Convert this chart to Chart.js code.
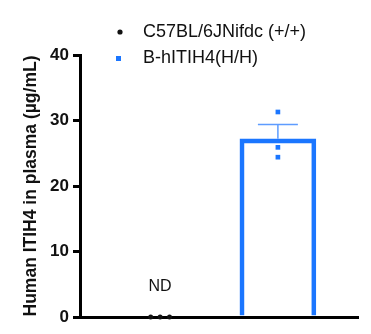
<!DOCTYPE html>
<html>
<head>
<meta charset="utf-8">
<script src="https://cdn.jsdelivr.net/npm/chart.js@4.4.1/dist/chart.umd.min.js"></script>
<style>
  html, body { margin: 0; padding: 0; background: #fff; }
  #wrap { width: 371px; height: 334px; }
</style>
</head>
<body>
<div id="wrap"><canvas id="c" width="371" height="334"></canvas></div>
<script>
// Groups along the x axis (linear positions 0 and 1)
const groups = ['C57BL/6JNifdc (+/+)', 'B-hITIH4(H/H)'];
// Individual animals, µg/mL (wild type not detected, plotted at 0)
const wtValues = [0, 0, 0];
const wtJitter = [-0.08, 0, 0.08];
const humanizedValues = [31.3, 25.9, 24.4];
// Group summary: mean and SEM
const humanizedMean = 27.2;
const humanizedSem = 2.2;
const ndLabel = 'ND';
const yTicks = [0, 10, 20, 30, 40];

const BLUE = '#1b76ff';
const ERR_BLUE = '#5e9cff';

const errorBarPlugin = {
  id: 'errorBar',
  afterDatasetsDraw(chart) {
    const { ctx, scales: { x, y } } = chart;
    const cx = x.getPixelForValue(1);
    const yTop = y.getPixelForValue(humanizedMean + humanizedSem);
    const yMean = y.getPixelForValue(humanizedMean);
    ctx.save();
    ctx.strokeStyle = ERR_BLUE;
    ctx.lineWidth = 1.5;
    ctx.beginPath();
    ctx.moveTo(cx, yMean);
    ctx.lineTo(cx, yTop);
    ctx.moveTo(cx - 20, yTop);
    ctx.lineTo(cx + 20, yTop);
    ctx.stroke();
    // Not-detected label above the wild-type group
    ctx.fillStyle = '#111';
    ctx.font = '16px "Liberation Sans", Arial, sans-serif';
    ctx.textAlign = 'center';
    ctx.textBaseline = 'middle';
    ctx.fillText(ndLabel, x.getPixelForValue(0), y.getPixelForValue(0) - 30);
    ctx.restore();
  }
};

const legendPlugin = {
  id: 'stackLegend',
  afterDraw(chart) {
    const { ctx } = chart;
    ctx.save();
    ctx.font = '18px "Liberation Sans", Arial, sans-serif';
    ctx.textBaseline = 'middle';
    ctx.textAlign = 'left';
    ctx.fillStyle = '#111';
    // row 1: black dot
    ctx.beginPath();
    ctx.arc(120, 32, 2.6, 0, Math.PI * 2);
    ctx.fill();
    ctx.fillText(groups[0], 143, 32);
    // row 2: blue square
    ctx.fillStyle = BLUE;
    ctx.fillRect(116, 56, 5, 5);
    ctx.fillStyle = '#111';
    ctx.fillText(groups[1], 143, 58);
    ctx.restore();
  }
};

new Chart(document.getElementById('c'), {
  type: 'bar',
  data: {
    datasets: [
      {
        type: 'bar',
        label: groups[1] + ' mean',
        data: [{ x: 1, y: humanizedMean }],
        backgroundColor: 'rgba(0,0,0,0)',
        borderColor: BLUE,
        borderWidth: 4,
        borderSkipped: 'bottom',
        barThickness: 76,
        grouped: false,
        order: 2
      },
      {
        type: 'scatter',
        label: groups[0],
        data: wtValues.map((v, i) => ({ x: wtJitter[i], y: v })),
        backgroundColor: '#111',
        borderColor: '#111',
        pointStyle: 'circle',
        pointRadius: 2.5,
        borderWidth: 0,
        clip: false,
        order: 0
      },
      {
        type: 'scatter',
        label: groups[1],
        data: humanizedValues.map(v => ({ x: 1, y: v })),
        backgroundColor: BLUE,
        borderColor: BLUE,
        pointStyle: 'rect',
        pointRadius: 3.3,
        borderWidth: 0,
        order: 0
      }
    ]
  },
  options: {
    responsive: false,
    animation: false,
    layout: { padding: { top: 55, right: 13, left: 0, bottom: 0 } },
    plugins: { legend: { display: false }, tooltip: { enabled: false } },
    scales: {
      x: {
        type: 'linear',
        offset: false,
        min: -0.68,
        max: 1.68,
        ticks: { display: false },
        grid: { display: false },
        border: { display: true, color: '#000', width: 3 },
        afterFit(s) { s.height = 17; }
      },
      y: {
        min: 0,
        max: 40,
        afterBuildTicks(s) { s.ticks = yTicks.map(v => ({ value: v })); },
        ticks: {
          color: '#111',
          font: { family: '"Liberation Sans", Arial, sans-serif', size: 17, weight: 'bold' },
          padding: 4
        },
        grid: {
          drawOnChartArea: false,
          drawTicks: true,
          tickLength: 7,
          tickColor: '#000',
          lineWidth: 3
        },
        border: { display: true, color: '#000', width: 3 },
        title: {
          display: true,
          text: 'Human ITIH4 in plasma (µg/mL)',
          color: '#111',
          font: { family: '"Liberation Sans", Arial, sans-serif', size: 17.5, weight: 'bold' },
          padding: { top: 21, bottom: 0 }
        },
        afterFit(s) { s.width = 80; }
      }
    }
  },
  plugins: [errorBarPlugin, legendPlugin]
});
</script>
</body>
</html>
